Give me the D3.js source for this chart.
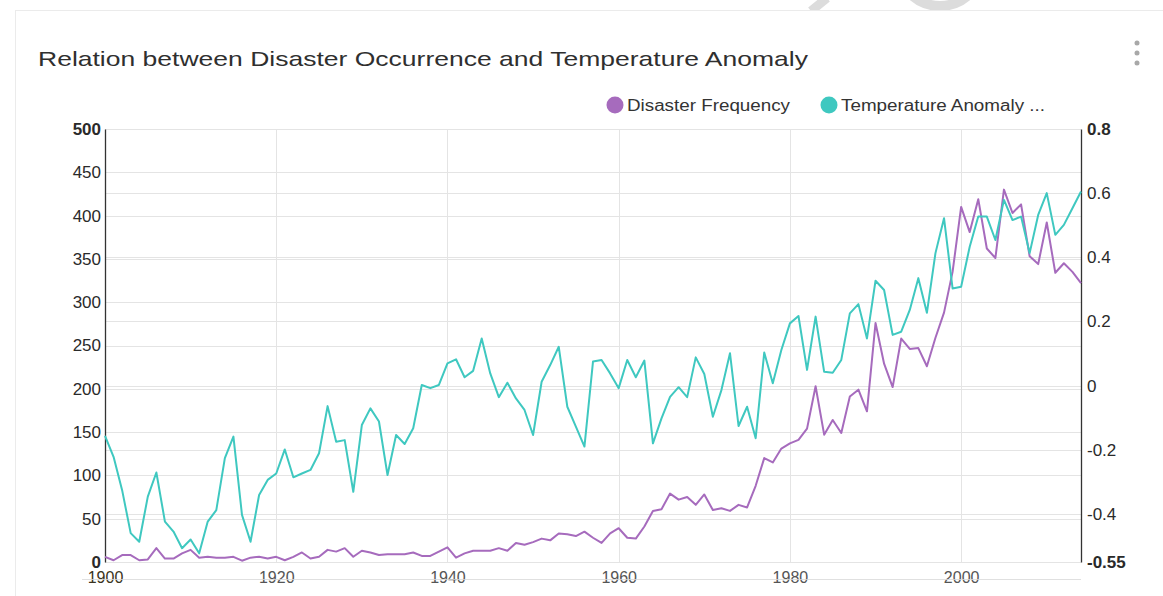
<!DOCTYPE html>
<html>
<head>
<meta charset="utf-8">
<style>
  body { margin: 0; background: #fff; }
  svg { display: block; font-family: 'Liberation Sans', Arial, sans-serif; }
</style>
</head>
<body>

<script src="https://cdn.jsdelivr.net/npm/d3@7"></script>

<script>

const width = 1163;
const height = 596;

// one value per year, 1900..2014
const years = d3.range(1900, 2015);

const disasters = [
  6, 2, 8, 8, 2, 3, 16, 4, 4, 10,
  14, 5, 6, 5, 5, 6, 1.5, 5, 6, 4,
  6, 2, 6, 11, 4, 6, 14, 12, 16, 6,
  13, 11, 8, 9, 9, 9, 11, 7, 7, 12,
  17, 5, 10, 13, 13, 13, 16, 13, 22, 20,
  23, 27, 25, 33, 32, 30, 35, 28, 22, 33,
  39, 28, 27, 41, 59, 61, 79, 72, 75, 66,
  78, 60, 62, 59, 66, 63, 88, 120, 115, 131,
  137, 141, 154, 203, 147, 164, 149, 191, 199, 174,
  276, 229, 202, 258, 246, 247, 226, 259, 288, 335,
  410, 381, 419, 362, 351, 430, 403, 413, 353, 344,
  392, 334, 345, 335, 322
];

const tempAnomaly = [
  -0.157, -0.222, -0.326, -0.46, -0.487, -0.346, -0.271, -0.424, -0.455, -0.507,
  -0.48, -0.523, -0.424, -0.388, -0.226, -0.159, -0.403, -0.487, -0.341, -0.294,
  -0.274, -0.199, -0.286, -0.274, -0.263, -0.211, -0.064, -0.175, -0.17, -0.331,
  -0.123, -0.071, -0.112, -0.279, -0.154, -0.182, -0.133, 0.002, -0.008, 0.002,
  0.069, 0.082, 0.026, 0.046, 0.147, 0.038, -0.036, 0.009, -0.04, -0.076,
  -0.154, 0.012, 0.064, 0.121, -0.066, -0.128, -0.19, 0.075, 0.08, 0.038,
  -0.008, 0.08, 0.026, 0.078, -0.18, -0.102, -0.035, -0.005, -0.036, 0.088,
  0.036, -0.097, -0.014, 0.101, -0.126, -0.066, -0.164, 0.103, 0.007, 0.111,
  0.194, 0.217, 0.049, 0.215, 0.043, 0.04, 0.08, 0.225, 0.254, 0.147,
  0.327, 0.298, 0.158, 0.168, 0.236, 0.335, 0.227, 0.413, 0.522, 0.303,
  0.308, 0.433, 0.527, 0.527, 0.454, 0.579, 0.516, 0.527, 0.413, 0.532,
  0.6, 0.47, 0.501, 0.553, 0.605
];

const leftTicks = [0, 50, 100, 150, 200, 250, 300, 350, 400, 450, 500];
const rightTicks = [-0.55, -0.4, -0.2, 0, 0.2, 0.4, 0.6, 0.8];
const xTicks = [1900, 1920, 1940, 1960, 1980, 2000];

const seriesNames = ['Disaster Frequency', 'Temperature Anomaly ...'];
const colors = ['#a66bbd', '#3fc8c0'];

const plot = { left: 105, right: 1081, top: 129, bottom: 562 };

const svg = d3.select('body')
              .append('svg')
              .attr('width', width)
              .attr('height', height);

// faint watermark peeking over the card
svg.append('path')
  .attr('d', 'M811,11 L827,-2')
  .attr('stroke', '#dcdcdc').attr('stroke-width', 9).attr('fill', 'none');
svg.append('circle')
  .attr('cx', 940).attr('cy', -36).attr('r', 42)
  .attr('stroke', '#dcdcdc').attr('stroke-width', 10).attr('fill', 'none');

// card
svg.append('rect')
  .attr('x', 15.5).attr('y', 10.5)
  .attr('width', 1200).attr('height', 700)
  .attr('fill', '#fff')
  .attr('stroke', '#ebebeb');

// title
svg.append('text')
  .attr('x', 38).attr('y', 66)
  .attr('font-size', 21)
  .attr('fill', '#2f2f2f')
  .attr('textLength', 770)
  .attr('lengthAdjust', 'spacingAndGlyphs')
  .text('Relation between Disaster Occurrence and Temperature Anomaly');

// menu dots
svg.selectAll('.dot')
  .data([43, 53, 63])
  .enter()
  .append('circle')
    .attr('cx', 1137).attr('cy', d => d).attr('r', 2.5)
    .attr('fill', '#a8a8a8');

const x = d3.scaleLinear().domain([1900, 2014]).range([plot.left, plot.right]);
const yL = d3.scaleLinear().domain([0, 500]).range([plot.bottom, plot.top]);
const yR = d3.scaleLinear().domain([-0.55, 0.8]).range([plot.bottom, plot.top]);

// grid
const grid = svg.append('g').attr('stroke', '#e4e4e4').attr('stroke-width', 1);

grid.selectAll('.hl')
  .data(leftTicks)
  .enter()
  .append('line')
    .attr('x1', plot.left).attr('x2', plot.right)
    .attr('y1', d => Math.round(yL(d)) + 0.5).attr('y2', d => Math.round(yL(d)) + 0.5);

grid.selectAll('.hr')
  .data(rightTicks.filter(d => d > -0.55))
  .enter()
  .append('line')
    .attr('x1', plot.left).attr('x2', plot.right)
    .attr('y1', d => Math.round(yR(d)) + 0.5).attr('y2', d => Math.round(yR(d)) + 0.5);

grid.selectAll('.v')
  .data(xTicks.slice(1))
  .enter()
  .append('line')
    .attr('x1', d => Math.round(x(d)) + 0.5).attr('x2', d => Math.round(x(d)) + 0.5)
    .attr('y1', plot.top).attr('y2', plot.bottom);

// axes
const styleAxis = (g, ends) => {
  g.select('.domain').attr('stroke', '#333').attr('stroke-width', 1.3);
  g.selectAll('.tick text')
    .attr('fill', '#2a2a2a')
    .attr('font-size', 17)
    .attr('font-weight', (d, i, n) => ends && (i === 0 || i === n.length - 1) ? 'bold' : 'normal');
  g.selectAll('.tick line').remove();
};

svg.append('g')
  .attr('transform', `translate(${plot.left},0)`)
  .call(d3.axisLeft(yL).tickValues(leftTicks).tickSize(0).tickPadding(4))
  .call(g => styleAxis(g, true));

svg.append('g')
  .attr('transform', `translate(${plot.right},0)`)
  .call(d3.axisRight(yR).tickValues(rightTicks).tickFormat(d => String(d)).tickSize(0).tickPadding(6))
  .call(g => styleAxis(g, true));

const xAxis = svg.append('g')
  .attr('transform', `translate(0,${plot.bottom})`)
  .call(d3.axisBottom(x).tickValues(xTicks).tickFormat(d3.format('d')).tickSize(0).tickPadding(10))
  .call(g => styleAxis(g, false));
xAxis.select('.domain').remove();
xAxis.selectAll('.tick text')
  .attr('font-size', 16)
  .attr('fill', d => d === 1900 ? '#3a3320' : '#555');

// faint line running under the year labels
svg.append('line')
  .attr('x1', 82).attr('x2', plot.right)
  .attr('y1', 579.5).attr('y2', 579.5)
  .attr('stroke', '#d8d8d8').attr('stroke-opacity', 0.8);

// lines
const lineL = d3.line().x((d, i) => x(years[i])).y(d => yL(d));
const lineR = d3.line().x((d, i) => x(years[i])).y(d => yR(d));

svg.append('path')
  .datum(disasters)
  .attr('d', lineL)
  .attr('fill', 'none')
  .attr('stroke', colors[0])
  .attr('stroke-width', 2)
  .attr('stroke-linejoin', 'round');

svg.append('path')
  .datum(tempAnomaly)
  .attr('d', lineR)
  .attr('fill', 'none')
  .attr('stroke', colors[1])
  .attr('stroke-width', 2)
  .attr('stroke-linejoin', 'round');

// legend
const legendPos = [{ cx: 615, tx: 627, w: 163 }, { cx: 829, tx: 841, w: 204 }];
const legend = svg.selectAll('.legend')
  .data(seriesNames)
  .enter()
  .append('g');

legend.append('circle')
  .attr('cx', (d, i) => legendPos[i].cx).attr('cy', 105).attr('r', 8.5)
  .attr('fill', (d, i) => colors[i]);

legend.append('text')
  .attr('x', (d, i) => legendPos[i].tx).attr('y', 111)
  .attr('font-size', 16)
  .attr('fill', '#333')
  .attr('textLength', (d, i) => legendPos[i].w)
  .attr('lengthAdjust', 'spacingAndGlyphs')
  .text(d => d);

</script>
</body>
</html>
